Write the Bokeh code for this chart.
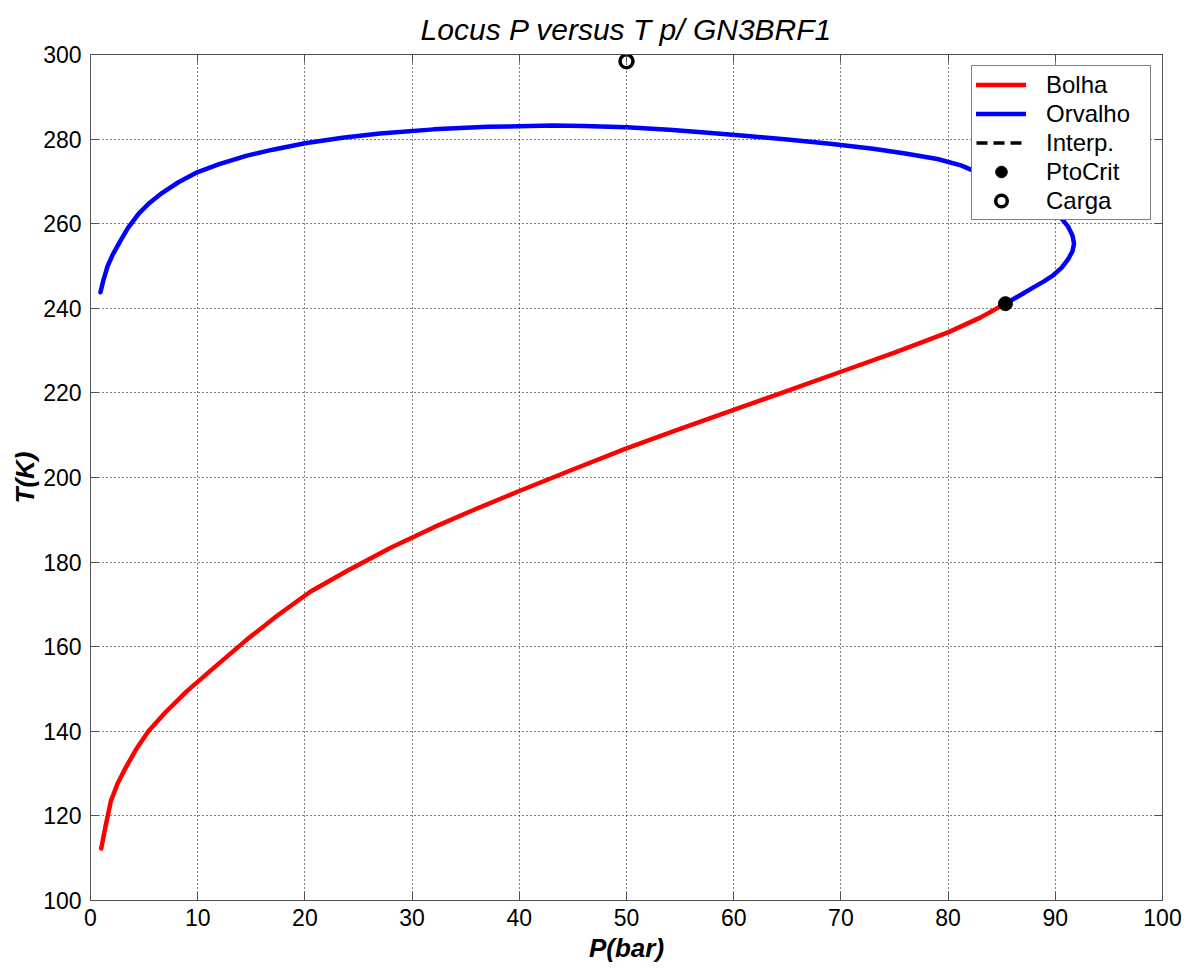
from bokeh.plotting import figure
from bokeh.models import (Range1d, LinearAxis, FixedTicker, Legend, LegendItem,
                          ColumnDataSource)
from bokeh.embed import file_html
from bokeh.resources import INLINE

# Bubble-point locus (Bolha): pressure in bar, temperature in K
bolha_p = [1.0, 1.4, 1.9, 2.5, 3.2, 4.2, 5.4, 7.0, 9.0, 11.5, 14.5, 17.5, 20.5,
           24.0, 28.0, 32.0, 36.0, 40.0, 45.0, 50.0, 55.0, 60.0, 65.0, 70.0,
           75.0, 80.0, 83.0, 85.35]
bolha_t = [112.3, 117.5, 123.5, 127.5, 131.0, 135.5, 140.0, 144.5, 149.5, 155.0,
           161.5, 167.5, 173.0, 178.0, 183.4, 188.2, 192.6, 196.8, 201.9, 206.9,
           211.5, 216.0, 220.5, 225.0, 229.5, 234.3, 237.8, 241.1]

# Dew-point locus (Orvalho), running from low pressure up to the critical point
orvalho_p = [0.93, 1.2, 1.6, 2.1, 2.8, 3.5, 4.5, 5.5, 6.7, 8.2, 10.0, 12.0, 14.6,
             17.0, 20.0, 23.5, 27.0, 32.0, 37.0, 43.0, 46.0, 50.0, 54.0, 57.0,
             61.0, 65.0, 69.0, 73.0, 76.0, 79.0, 81.2, 82.4, 84.0, 86.0, 88.0,
             89.5, 90.5, 91.2, 91.6, 91.75, 91.6, 91.2, 90.6, 89.8, 88.9, 88.0,
             87.0, 86.1, 85.35]
orvalho_t = [243.8, 246.6, 250.0, 252.8, 256.0, 259.0, 262.4, 264.9, 267.3, 269.8,
             272.2, 274.1, 276.1, 277.5, 279.0, 280.3, 281.3, 282.3, 282.9, 283.2,
             283.1, 282.8, 282.2, 281.6, 280.8, 279.9, 278.9, 277.7, 276.6, 275.3,
             273.8, 272.5, 270.6, 268.3, 265.8, 263.5, 261.5, 259.3, 257.2, 255.3,
             253.5, 251.6, 249.6, 247.8, 246.3, 245.0, 243.5, 242.2, 241.1]

# Interpolated segment (not present for this mixture)
interp_p = [float("nan")]
interp_t = [float("nan")]

# Critical point and feed condition
ptocrit_p = [85.35]
ptocrit_t = [241.1]
carga_p = [50.0]
carga_t = [298.4]

x_ticks = [0, 10, 20, 30, 40, 50, 60, 70, 80, 90, 100]
y_ticks = [100, 120, 140, 160, 180, 200, 220, 240, 260, 280, 300]

FONT = "Liberation Sans"
FRAME = "#505050"

p = figure(width=1193, height=968, output_backend="svg", toolbar_location=None,
           x_range=Range1d(0, 100), y_range=Range1d(100, 300),
           min_border_left=90, min_border_right=31, min_border_top=54,
           min_border_bottom=68, title="Locus P versus T p/ GN3BRF1")
p.background_fill_color = "white"
p.border_fill_color = "white"
p.outline_line_color = FRAME
p.outline_line_width = 1

p.title.align = "center"
p.title.text_font = FONT
p.title.text_font_style = "italic"
p.title.text_font_size = "30px"
p.title.text_color = "black"
p.title.standoff = 18

# Axes with inward ticks on all four sides
for ax, ticks in ((p.xaxis[0], x_ticks), (p.yaxis[0], y_ticks)):
    ax.ticker = FixedTicker(ticks=ticks)
    ax.major_tick_in = 8
    ax.major_tick_out = 0
    ax.minor_tick_line_color = None
    ax.axis_line_color = FRAME
    ax.major_tick_line_color = FRAME
    ax.major_label_text_font = FONT
    ax.major_label_text_font_size = "23px"
    ax.major_label_text_color = "black"
    ax.axis_label_text_font = FONT
    ax.axis_label_text_font_size = "26px"
    ax.axis_label_text_font_style = "bold italic"
    ax.axis_label_text_color = "black"

p.xaxis[0].axis_label = "P(bar)"
p.xaxis[0].major_label_standoff = 8
p.xaxis[0].axis_label_standoff = 4
p.yaxis[0].axis_label = "T(K)"
p.yaxis[0].major_label_standoff = 9
p.yaxis[0].axis_label_standoff = 0

for loc, ticks in (("above", x_ticks), ("right", y_ticks)):
    ax = LinearAxis(ticker=FixedTicker(ticks=ticks))
    ax.major_tick_in = 8
    ax.major_tick_out = 0
    ax.minor_tick_line_color = None
    ax.axis_line_color = FRAME
    ax.major_tick_line_color = FRAME
    ax.major_label_text_font_size = "0px"
    ax.major_label_standoff = 0
    p.add_layout(ax, loc)

# Dotted grid
for g, ticks in ((p.xgrid[0], x_ticks), (p.ygrid[0], y_ticks)):
    g.ticker = FixedTicker(ticks=ticks)
    g.grid_line_color = "black"
    g.grid_line_dash = "1 3"
    g.grid_line_width = 1

r_bolha = p.line(bolha_p, bolha_t, line_color="#ff0000", line_width=4.5,
                 line_join="round", line_cap="round")
r_orv = p.line(orvalho_p, orvalho_t, line_color="#0000ff", line_width=4.5,
               line_join="round", line_cap="round")
r_interp = p.line(x="p", y="t", source=ColumnDataSource(dict(p=interp_p, t=interp_t)),
                  line_color="black", line_width=3.5, line_dash="11 6")
r_crit = p.scatter(ptocrit_p, ptocrit_t, marker="circle", size=14,
                   fill_color="black", line_color="black")
r_carga = p.scatter(carga_p, carga_t, marker="circle", size=13,
                    fill_color=None, line_color="black", line_width=3.5)

legend = Legend(items=[
    LegendItem(label="Bolha", renderers=[r_bolha]),
    LegendItem(label="Orvalho", renderers=[r_orv]),
    LegendItem(label="Interp.", renderers=[r_interp]),
    LegendItem(label="PtoCrit", renderers=[r_crit]),
    LegendItem(label="Carga", renderers=[r_carga]),
], location="top_right")
legend.margin = 11
legend.padding = 4
legend.spacing = 0
legend.label_height = 29
legend.glyph_height = 29
legend.glyph_width = 50
legend.label_width = 100
legend.label_standoff = 20
legend.label_text_font = FONT
legend.label_text_font_size = "24px"
legend.label_text_color = "black"
legend.border_line_color = "black"
legend.border_line_width = 1
legend.background_fill_color = "white"
legend.background_fill_alpha = 1.0
p.add_layout(legend, "center")

open("out.html", "w").write(file_html(p, INLINE))
